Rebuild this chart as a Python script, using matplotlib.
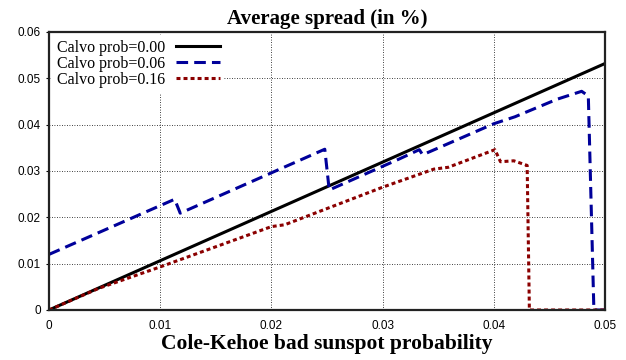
import matplotlib
matplotlib.use("Agg")
import matplotlib.pyplot as plt

# Data
x_black = [0.0, 0.05]
y_black = [0.0, 0.0532]

x_blue = [0.0, 0.0113, 0.0118, 0.0248, 0.0252, 0.0315, 0.0333, 0.0336, 0.0400,
          0.0419, 0.0457, 0.0479, 0.0485, 0.0490, 0.0500]
y_blue = [0.0120, 0.0239, 0.0209, 0.0347, 0.0259, 0.0326, 0.0346, 0.0335, 0.0402,
          0.0417, 0.0455, 0.0472, 0.0462, 0.0, 0.0]

x_red = [0.0, 0.0045, 0.0100, 0.0200, 0.0212, 0.0300, 0.0346, 0.0359, 0.0401,
         0.0406, 0.0418, 0.0430, 0.0432, 0.0500]
y_red = [0.0, 0.0047, 0.0093, 0.0180, 0.0184, 0.0265, 0.0304, 0.0308, 0.0346,
         0.0320, 0.0322, 0.0312, 0.0, 0.0]

labels = ["Calvo prob=0.00", "Calvo prob=0.06", "Calvo prob=0.16"]
xticks = [0, 0.01, 0.02, 0.03, 0.04, 0.05]
xticklabels = ["0", "0.01", "0.02", "0.03", "0.04", "0.05"]
yticks = [0, 0.01, 0.02, 0.03, 0.04, 0.05, 0.06]
yticklabels = ["0", "0.01", "0.02", "0.03", "0.04", "0.05", "0.06"]

fig = plt.figure(figsize=(6.26, 3.6), dpi=100)
ax = fig.add_axes([49/626, 50/360, 556/626, 278/360])

ax.plot(x_black, y_black, color="black", lw=2.2, ls="-", label=labels[0])
ax.plot(x_blue, y_blue, color="#00009a", lw=2.2, ls=(0, (3.8, 2.0)), label=labels[1])
ax.plot(x_red, y_red, color="#8b0000", lw=2.2, ls=(0, (1.3, 1.0)), label=labels[2])

ax.set_xlim(0, 0.05)
ax.set_ylim(0, 0.06)
ax.set_xticks(xticks)
ax.set_xticklabels(xticklabels)
ax.set_yticks(yticks)
ax.set_yticklabels(yticklabels)
for lab in ax.get_xticklabels() + ax.get_yticklabels():
    lab.set_family("Liberation Sans")
    lab.set_fontsize(8.5)
ax.tick_params(axis="y", direction="out", length=2, width=0.8, pad=4)
ax.tick_params(axis="x", length=0, pad=7)

ax.grid(True, color="black", ls=(0, (1, 2)), lw=0.6)
ax.set_axisbelow(True)
for sp in ax.spines.values():
    sp.set_linewidth(1.6)
    sp.set_color("#222222")

ax.set_title("Average spread (in %)", fontfamily="Liberation Serif",
             fontweight="bold", fontsize=15, pad=6)
ax.set_xlabel("Cole-Kehoe bad sunspot probability", fontfamily="Liberation Serif",
              fontweight="bold", fontsize=15.5, labelpad=2)

leg = ax.legend(loc="upper left", frameon=True, fancybox=False, framealpha=1,
                edgecolor="white", markerfirst=False,
                prop={"family": "Liberation Serif", "size": 11.5},
                handlelength=2.7, handletextpad=0.7, labelspacing=0.0,
                borderpad=0.3, borderaxespad=0.2)
leg.get_frame().set_linewidth(0)

fig.savefig("out.png", dpi=100)
